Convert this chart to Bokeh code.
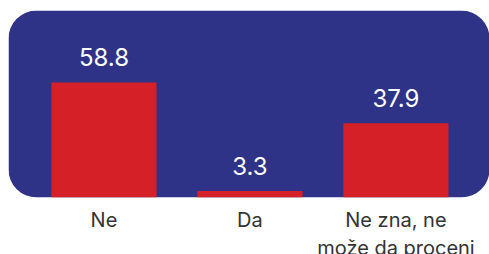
from bokeh.plotting import figure
from bokeh.models import ColumnDataSource, BoxAnnotation, FixedTicker, Range1d
from bokeh.embed import file_html
from bokeh.resources import INLINE
from bokeh.core.properties import value

categories = ["Ne", "Da", "Ne zna, ne\nmože da proceni"]
values = [58.8, 3.3, 37.9]
labels = ["58.8", "3.3", "37.9"]

BLUE = "#2e3387"
RED = "#d52027"
FONT = "Inter"

xs = list(range(len(categories)))
src = ColumnDataSource(dict(x=xs, top=values, label=labels))

p = figure(frame_width=481, frame_height=187, output_backend="svg", toolbar_location=None,
           x_range=Range1d(-0.654, 2.641), y_range=Range1d(0, 95.6),
           min_border_left=8, min_border_right=0, min_border_top=10, min_border_bottom=0)

p.background_fill_color = "white"
p.border_fill_color = "white"
p.outline_line_color = None
p.grid.visible = False
p.yaxis.visible = False

bg = BoxAnnotation(fill_color=BLUE, fill_alpha=1, line_color=None, border_radius=28, level="underlay")
p.add_layout(bg)

p.vbar(x="x", top="top", bottom=0, width=0.72, source=src, fill_color=RED, line_color=None)

p.text(x="x", y="top", text="label", source=src, text_align="center", text_baseline="alphabetic",
       y_offset=-25, text_color="white", text_font_size="24px", text_font=value(FONT))

ax = p.xaxis[0]
ax.ticker = FixedTicker(ticks=xs)
ax.major_label_overrides = {i: c for i, c in zip(xs, categories)}
ax.axis_line_color = None
ax.major_tick_line_color = None
ax.minor_tick_line_color = None
ax.major_tick_out = 0
ax.major_tick_in = 0
ax.major_label_text_font = FONT
ax.major_label_text_font_size = "20px"
ax.major_label_text_color = "#333333"
ax.major_label_standoff = 10

open("out.html", "w").write(file_html(p, INLINE))
